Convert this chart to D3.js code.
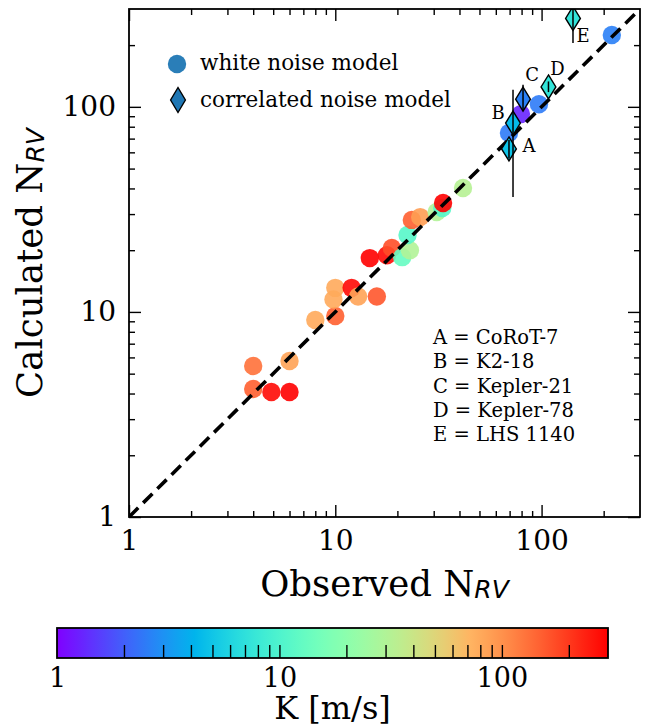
<!DOCTYPE html>
<html><head><meta charset="utf-8">
<script src="https://cdn.jsdelivr.net/npm/d3@7"></script>
<style>body{margin:0;background:#fff}svg{display:block}</style>
</head><body><svg id="c" width="648" height="728"></svg>
<script>
// ---------------- data ----------------
// white noise model: observed N_RV, calculated N_RV, semi-amplitude K [m/s]
const obsWhite  = [4.0, 4.0, 4.9, 6.0, 6.0, 8.0, 10.0, 10.0, 9.8, 12.0, 12.9, 15.9, 14.7, 17.8, 18.8, 21.1, 23.0, 22.4, 23.5, 25.8, 31.0, 33.0, 33.3, 41.6, 69.5, 79.4, 97.1, 219];
const calcWhite = [5.45, 4.21, 4.07, 4.07, 5.76, 9.13, 9.55, 13.1, 11.5, 13.1, 11.9, 11.9, 18.3, 18.9, 20.5, 18.5, 20.0, 23.7, 28.1, 29.0, 30.7, 32.1, 34.0, 40.2, 74.5, 92.2, 103, 224];
const kWhite    = [130, 150, 280, 300, 85, 80, 150, 80, 80, 280, 85, 160, 300, 280, 170, 13, 30, 11, 150, 90, 30, 11, 300, 32, 2.5, 1.3, 2.5, 2.6];

// correlated noise model
const corrLabels = ["A", "B", "C", "D", "E"];
const corrNames  = ["CoRoT-7", "K2-18", "Kepler-21", "Kepler-78", "LHS 1140"];
const obsCorr    = [69.5, 72.7, 81.3, 108, 142];
const calcCorr   = [62.3, 83.4, 109, 125, 270];
const corrLow    = [56, 36.3, 96, 118, 205];
const corrHigh   = [69, 121, 128, 133, 330];
const kCorr      = [4.9, 4.4, 2.6, 7.4, 7.4];

const axisDomain = [1, 300];
const majorTicks = [1, 10, 100];
const minorTicks = [2,3,4,5,6,7,8,9,20,30,40,50,60,70,80,90,200];
const cbTicks    = [2,3,4,5,6,7,8,9,10,20,30,40,50,60,70,80,90,100,200];

// ---------------- layout ----------------
const svg = d3.select('#c');
const L = 129, R = 640, T = 9, B = 517;
const x = d3.scaleLog().domain(axisDomain).range([L, R]);
const y = d3.scaleLog().domain(axisDomain).range([B, T]);
const SERIF = "'DejaVu Serif', serif";

function rainbow(t) {
  t = Math.max(0, Math.min(1, t));
  const r = Math.min(1, Math.abs(2 * t - 0.5)), g = Math.sin(Math.PI * t), b = Math.cos(Math.PI * t / 2);
  return d3.rgb(r * 255, g * 255, b * 255).formatHex();
}
const kScale = d3.scaleLog().domain([1, 300]).range([0, 1]).clamp(true);
const color = k => rainbow(kScale(k));

svg.append('defs').append('clipPath').attr('id', 'plotclip')
  .append('rect').attr('x', L).attr('y', T).attr('width', R - L).attr('height', B - T);

const plot = svg.append('g').attr('clip-path', 'url(#plotclip)');

// white noise circles
plot.selectAll('circle.w').data(obsWhite).join('circle')
  .attr('class', 'w')
  .attr('cx', (d, i) => x(d)).attr('cy', (d, i) => y(calcWhite[i]))
  .attr('r', 9.2)
  .attr('fill', (d, i) => color(kWhite[i]))
  .attr('fill-opacity', 0.9);

// 1:1 line
plot.append('line')
  .attr('x1', x(1)).attr('y1', y(1)).attr('x2', x(300)).attr('y2', y(300))
  .attr('stroke', '#000').attr('stroke-width', 3.6).attr('stroke-dasharray', '13,7');

// diamonds
const dW = 7.4, dH = 12;
const diamondPath = (cx, cy, w, h) => `M${cx},${cy - h}L${cx + w},${cy}L${cx},${cy + h}L${cx - w},${cy}Z`;
plot.selectAll('path.c').data(obsCorr).join('path')
  .attr('class', 'c')
  .attr('d', (d, i) => diamondPath(x(d), y(calcCorr[i]), dW, dH))
  .attr('fill', (d, i) => color(kCorr[i]))
  .attr('stroke', '#000').attr('stroke-width', 1.4);

// error bars
plot.selectAll('line.e').data(obsCorr).join('line')
  .attr('class', 'e')
  .attr('x1', d => x(d)).attr('x2', d => x(d))
  .attr('y1', (d, i) => y(corrLow[i])).attr('y2', (d, i) => y(corrHigh[i]))
  .attr('stroke', '#000').attr('stroke-width', 1.5);

// letter labels
const letterOffsets = [[20, 3], [-15, -4], [9, -18], [9, -12], [10, 24]];
svg.selectAll('text.lab').data(corrLabels).join('text')
  .attr('class', 'lab')
  .attr('x', (d, i) => x(obsCorr[i]) + letterOffsets[i][0])
  .attr('y', (d, i) => y(calcCorr[i]) + letterOffsets[i][1])
  .attr('text-anchor', 'middle')
  .attr('font-family', SERIF).attr('font-size', 18)
  .text(d => d);

// axes
function styleAxis(g) {
  g.select('.domain').remove();
  g.selectAll('line').attr('stroke', '#000').attr('stroke-width', 1.4);
  g.selectAll('text').attr('font-family', SERIF).attr('font-size', 28).attr('fill', '#000');
}
const fmt = d => String(d);
svg.append('g').attr('transform', `translate(0,${B})`)
  .call(d3.axisBottom(x).tickValues(majorTicks).tickFormat(fmt).tickSize(-12).tickPadding(13)).call(styleAxis);
svg.append('g').attr('transform', `translate(0,${B})`)
  .call(d3.axisBottom(x).tickValues(minorTicks).tickFormat('').tickSize(-6)).call(styleAxis);
svg.append('g').attr('transform', `translate(${L},0)`)
  .call(d3.axisLeft(y).tickValues(majorTicks).tickFormat(fmt).tickSize(-12).tickPadding(13)).call(styleAxis);
svg.append('g').attr('transform', `translate(${L},0)`)
  .call(d3.axisLeft(y).tickValues(minorTicks).tickFormat('').tickSize(-6)).call(styleAxis);
svg.append('g').attr('transform', `translate(0,${T})`)
  .call(d3.axisTop(x).tickValues(majorTicks).tickFormat('').tickSize(-12)).call(styleAxis);
svg.append('g').attr('transform', `translate(0,${T})`)
  .call(d3.axisTop(x).tickValues(minorTicks).tickFormat('').tickSize(-6)).call(styleAxis);
svg.append('g').attr('transform', `translate(${R},0)`)
  .call(d3.axisRight(y).tickValues(majorTicks).tickFormat('').tickSize(-12)).call(styleAxis);
svg.append('g').attr('transform', `translate(${R},0)`)
  .call(d3.axisRight(y).tickValues(minorTicks).tickFormat('').tickSize(-6)).call(styleAxis);

svg.append('rect').attr('x', L).attr('y', T).attr('width', R - L).attr('height', B - T)
  .attr('fill', 'none').attr('stroke', '#000').attr('stroke-width', 1.8);

// axis labels
function subLabel(sel, main, sub) {
  sel.attr('font-family', SERIF).attr('font-size', 35.5).attr('fill', '#000');
  sel.append('tspan').text(main);
  sel.append('tspan').text(sub).attr('font-family', "'DejaVu Sans', sans-serif")
    .attr('font-style', 'italic').attr('font-size', 25).attr('dy', 2);
}
svg.append('text').attr('x', (L + R) / 2).attr('y', 596).attr('text-anchor', 'middle')
  .call(subLabel, 'Observed N', 'RV');
svg.append('text').attr('transform', `translate(42,${(T + B) / 2}) rotate(-90)`).attr('text-anchor', 'middle')
  .call(subLabel, 'Calculated N', 'RV');

// legend
svg.append('circle').attr('cx', 177).attr('cy', 64).attr('r', 9.2).attr('fill', '#1f77b4').attr('fill-opacity', 0.95);
svg.append('text').attr('x', 200).attr('y', 70).attr('font-family', SERIF).attr('font-size', 21.5).text('white noise model');
svg.append('path').attr('d', diamondPath(178, 100, 7.4, 12.5)).attr('fill', '#1f77b4').attr('stroke', '#000').attr('stroke-width', 1.4);
svg.append('text').attr('x', 200).attr('y', 107).attr('font-family', SERIF).attr('font-size', 21.5).text('correlated noise model');

// name annotations
svg.selectAll('text.nm').data(corrLabels).join('text')
  .attr('class', 'nm')
  .attr('x', 433).attr('y', (d, i) => 344 + i * 24.3)
  .attr('font-family', SERIF).attr('font-size', 19.5)
  .text((d, i) => `${d} = ${corrNames[i]}`);

// colorbar
const cbL = 57, cbR = 608, cbT = 628, cbB = 658;
const cx = d3.scaleLog().domain([1, 300]).range([cbL, cbR]);
const grad = svg.select('defs').append('linearGradient').attr('id', 'cbgrad')
  .attr('x1', '0%').attr('x2', '100%').attr('y1', '0%').attr('y2', '0%');
d3.range(0, 65).forEach(i => {
  const t = i / 64;
  grad.append('stop').attr('offset', (t * 100) + '%').attr('stop-color', rainbow(t));
});
svg.append('rect').attr('x', cbL).attr('y', cbT).attr('width', cbR - cbL).attr('height', cbB - cbT)
  .attr('fill', 'url(#cbgrad)');
svg.append('g').attr('transform', `translate(0,${cbB})`)
  .call(d3.axisBottom(cx).tickValues(cbTicks).tickFormat('').tickSize(-13)).call(styleAxis);
const cbLabels = svg.append('g').attr('transform', `translate(0,${cbB})`)
  .call(d3.axisBottom(cx).tickValues(majorTicks).tickFormat(fmt).tickSize(0).tickPadding(10)).call(styleAxis);
cbLabels.selectAll('text').attr('font-size', 27);
svg.append('rect').attr('x', cbL).attr('y', cbT).attr('width', cbR - cbL).attr('height', cbB - cbT)
  .attr('fill', 'none').attr('stroke', '#000').attr('stroke-width', 1.8);
svg.append('text').attr('x', (cbL + cbR) / 2).attr('y', 719).attr('text-anchor', 'middle')
  .attr('font-family', SERIF).attr('font-size', 32).text('K [m/s]');
</script>
</body></html>
